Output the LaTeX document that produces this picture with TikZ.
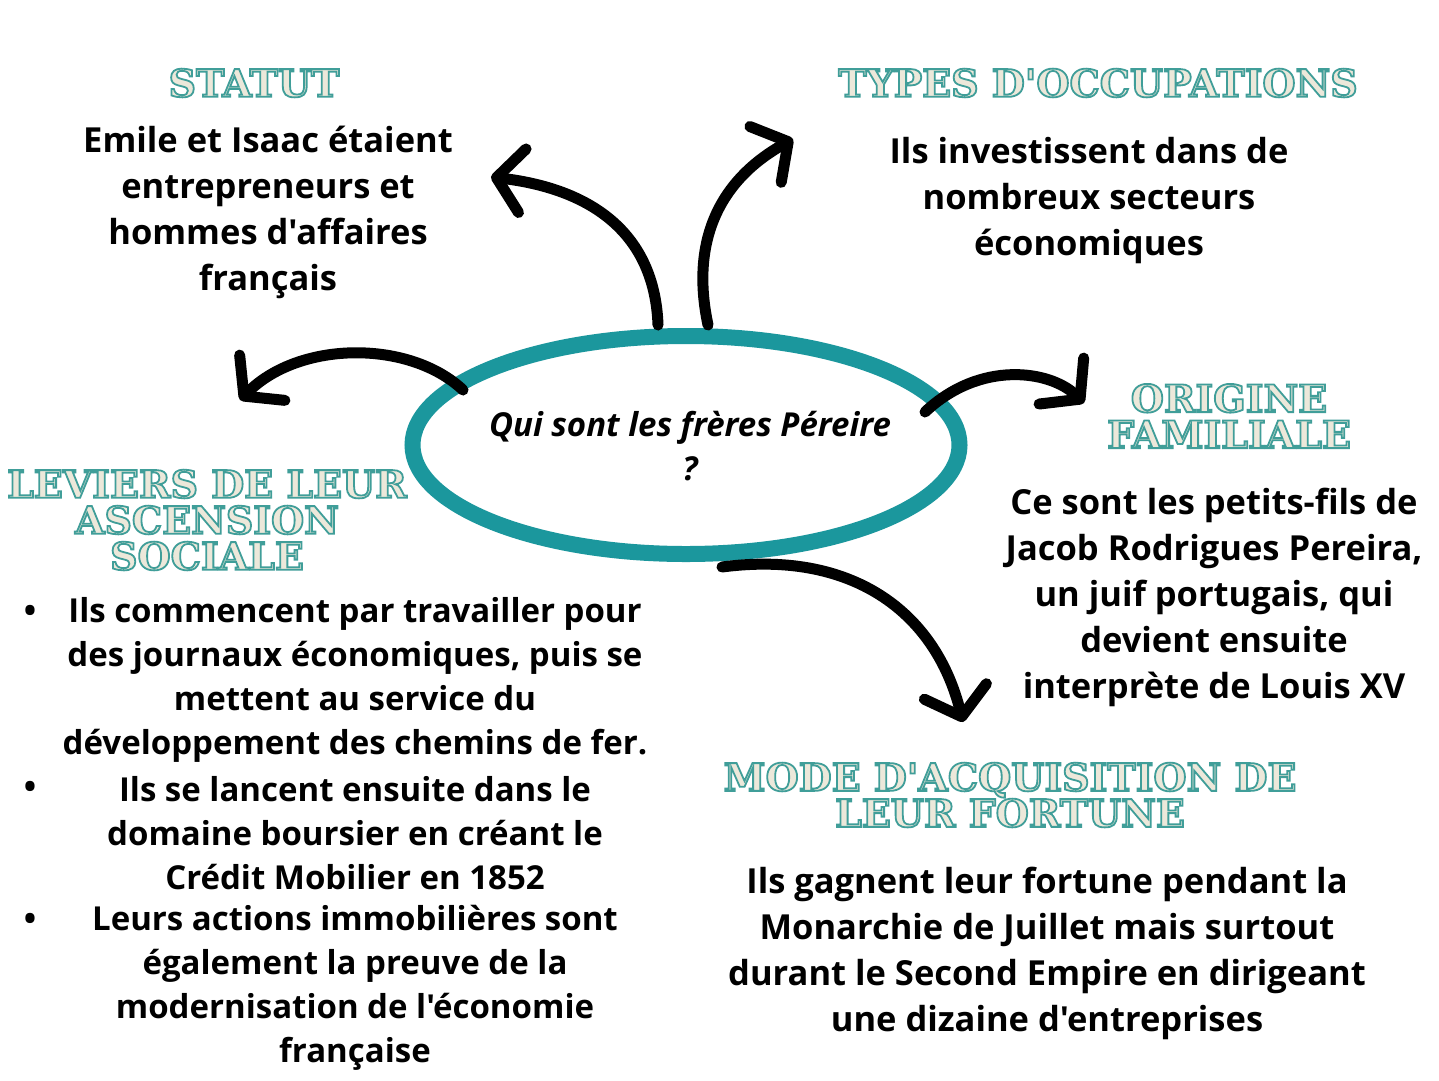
\documentclass[tikz,border=0pt]{standalone}
\usepackage{fontspec}
\newfontfamily\bodyfont{Open Sans}
\newfontfamily\headfont{DejaVu Serif}
\usetikzlibrary{arrows.meta,shapes.geometric}
\definecolor{teal1}{HTML}{1B979D}
\definecolor{headfill}{HTML}{ECE8DA}
\newcommand{\hd}[1]{{\color{headfill}\special{pdf:literal direct 2 Tr 1.8 w 0.25 0.62 0.60 RG}#1\special{pdf:literal direct 0 Tr}}}
\tikzset{
  head/.style={font=\headfont\bfseries\fontsize{38}{36}\selectfont, align=center, inner sep=0pt},
  body/.style={font=\bodyfont\bfseries\fontsize{34.5}{46}\selectfont, align=center, inner sep=0pt, text=black},
  lst/.style={font=\bodyfont\bfseries\fontsize{33}{44}\selectfont, align=center, inner sep=0pt, text=black},
  arr/.style={line width=11pt, line cap=round, -{Straight Barb[length=26pt,width=64pt,round]}},
}
\begin{document}
\begin{tikzpicture}[x=1pt,y=-1pt]
\useasboundingbox[fill=white] (0,0) rectangle (1439,1080);
% central ellipse
\node[draw=teal1, line width=16pt, ellipse, minimum width=547pt, minimum height=218pt, inner sep=0pt] (center) at (686,445) {};
\node[font=\bodyfont\bfseries\itshape\fontsize{33}{44}\selectfont, align=center] (title) at (690,446) {Qui sont les frères Péreire\\?};
% headings
\node[head] (hstatut) at (254,83) {\hd{STATUT}};
\node[head] (htypes) at (1098,83) {\hd{TYPES D'OCCUPATIONS}};
\node[head] (horig) at (1229,416) {\hd{ORIGINE}\\\hd{FAMILIALE}};
\node[head] (hlev) at (207,520) {\hd{LEVIERS DE LEUR}\\\hd{ASCENSION}\\\hd{SOCIALE}};
\node[head] (hmode) at (1010,795) {\hd{MODE D'ACQUISITION DE}\\\hd{LEUR FORTUNE}};
% bodies
\node[body] (tstatut) at (268,212) {Emile et Isaac étaient\\entrepreneurs et\\hommes d'affaires\\français};
\node[body] (ttypes) at (1089,201) {Ils investissent dans de\\nombreux secteurs\\économiques};
\node[body] (torig) at (1214,597) {Ce sont les petits-fils de\\Jacob Rodrigues Pereira,\\un juif portugais, qui\\devient ensuite\\interprète de Louis XV};
\node[body] (tmode) at (1047,953) {Ils gagnent leur fortune pendant la\\Monarchie de Juillet mais surtout\\durant le Second Empire en dirigeant\\une dizaine d'entreprises};
\node[lst] (l1) at (355,680) {Ils commencent par travailler pour\\des journaux économiques, puis se\\mettent au service du\\développement des chemins de fer.};
\node[lst] (l2) at (355,833) {Ils se lancent ensuite dans le\\domaine boursier en créant le\\Crédit Mobilier en 1852};
\node[lst] (l3) at (355,988) {Leurs actions immobilières sont\\également la preuve de la\\modernisation de l'économie\\française};
\node[lst] (b1) at (30,614) {•};
\node[lst] (b2) at (30,790) {•};
\node[lst] (b3) at (30,922) {•};
% arrow endpoints
\coordinate (s1) at (658,325); \coordinate (e1) at (491,177);
\coordinate (s2) at (708,325); \coordinate (e2) at (793,139);
\coordinate (s3) at (463,390); \coordinate (e3) at (240,400);
\coordinate (s4) at (925,412); \coordinate (e4) at (1084,403);
\coordinate (s5) at (722,567); \coordinate (e5) at (963,722);
\draw[arr] (s1) .. controls (655,240) and (600,190) .. (e1);
\draw[arr] (s2) .. controls (690,240) and (720,180) .. (e2);
\draw[arr] (s3) .. controls (410,340) and (300,340) .. (e3);
\draw[arr] (s4) .. controls (980,360) and (1050,370) .. (e4);
\draw[arr] (s5) .. controls (850,550) and (935,610) .. (e5);
\end{tikzpicture}
\end{document}
